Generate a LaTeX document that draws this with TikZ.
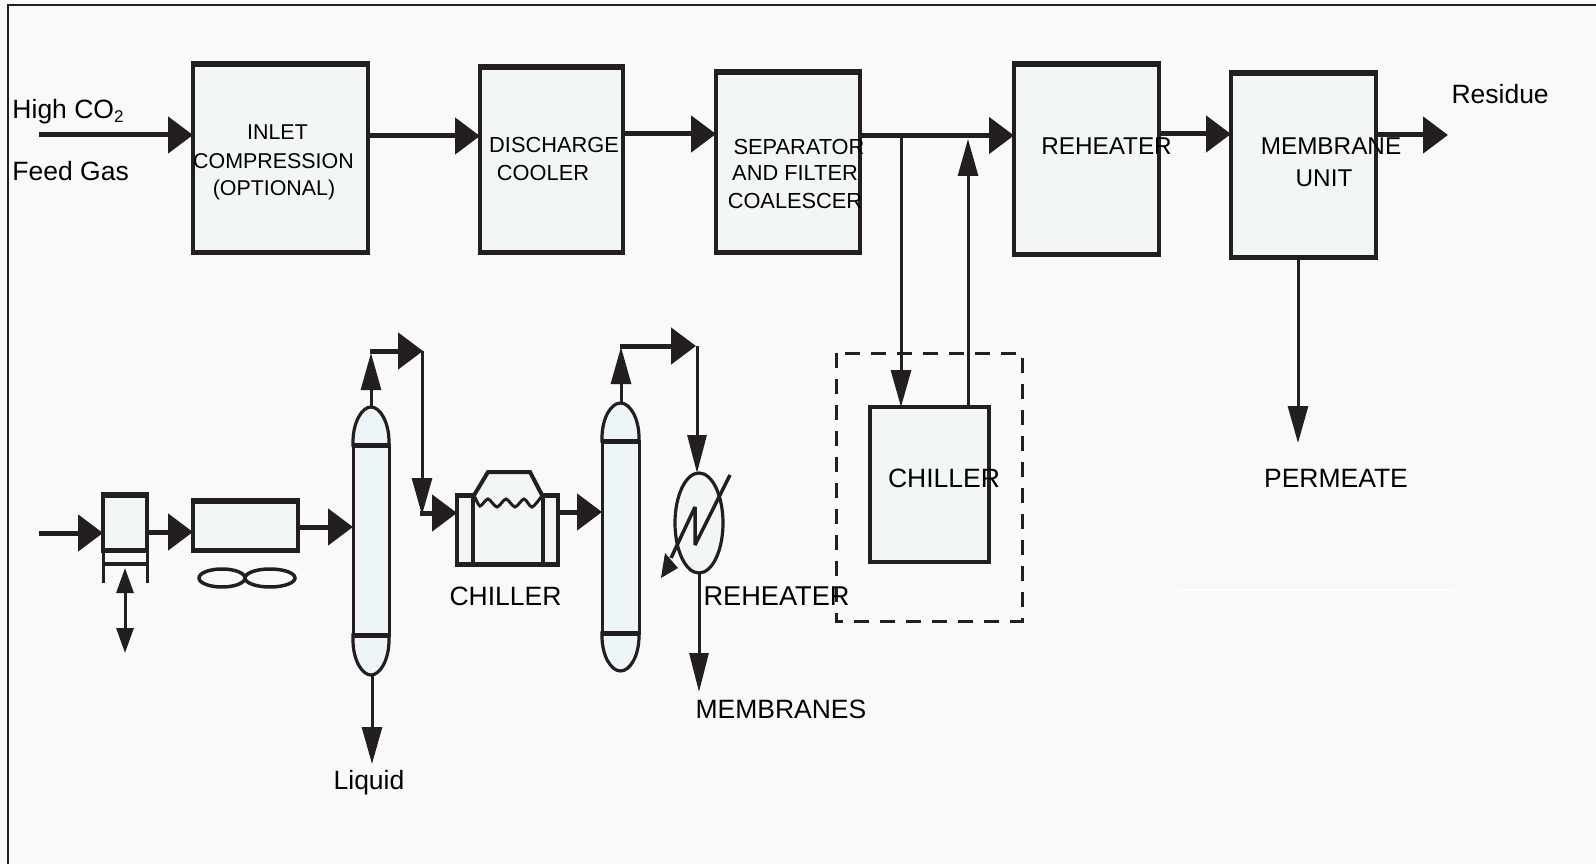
\documentclass[tikz,border=0pt]{standalone}
\usepackage{fontspec}
\setmainfont{Liberation Sans}
\usetikzlibrary{arrows.meta,calc,shapes.geometric}
\definecolor{ink}{HTML}{231F20}
\definecolor{pagebg}{HTML}{F9F9F9}
\definecolor{boxfill}{HTML}{F3F7F3}
\definecolor{colfill}{HTML}{EDF5F8}
\newcommand{\capbox}[1]{%
  \draw[ink,line width=5.5pt] ([xshift=-1.75pt]#1.north west) -- ([xshift=1.75pt]#1.north east);
  \draw[ink,line width=5pt] ([xshift=-1.75pt]#1.south west) -- ([xshift=1.75pt]#1.south east);}
\tikzset{
  unitbox/.style={draw=ink,fill=boxfill,line width=3.5pt,rectangle,inner sep=0pt,outer sep=0pt},
  colbox/.style={draw=ink,fill=colfill,line width=3pt,rectangle,inner sep=0pt,outer sep=0pt},
  bigflow/.style={draw=ink,line width=5pt,-{Triangle[length=25pt,width=36pt]}},
  thinflow/.style={draw=ink,line width=3pt,-{Triangle[length=37pt,width=20pt]}},
  lab/.style={text=black,inner sep=0pt,outer sep=0pt,anchor=base,align=center,font=\fontsize{26.5}{26.5}\selectfont},
  labl/.style={lab,anchor=base west},
  labm/.style={lab,font=\fontsize{21.8}{21.8}\selectfont},
  labs/.style={lab,font=\fontsize{21.4}{21.4}\selectfont},
  labr/.style={lab,font=\fontsize{24.3}{24.3}\selectfont},
}
\begin{document}
\begin{tikzpicture}[x=1pt,y=-1pt,line join=miter]
\useasboundingbox (0,0) rectangle (1596,864);
\fill[pagebg] (0,0) rectangle (1596,864);
\draw[ink,line width=1.6pt] (8,864) -- (8,5) -- (1596,5);
\draw[white,line width=2pt] (1179,590) -- (1453,590);

% top row
\node[unitbox,minimum width=175pt,minimum height=188pt] (inlet) at (280.5,158) {};
\node[unitbox,minimum width=143pt,minimum height=185pt] (discharge) at (551.5,159.5) {};
\node[unitbox,minimum width=144pt,minimum height=180pt] (separator) at (788,162) {};
\node[unitbox,minimum width=145pt,minimum height=190pt] (reheat) at (1086.5,159) {};
\node[unitbox,minimum width=145pt,minimum height=184pt] (membrane) at (1303.5,165) {};
\capbox{inlet}\capbox{discharge}\capbox{separator}\capbox{reheat}\capbox{membrane}
\node[unitbox,minimum width=119pt,minimum height=155pt] (chillbox) at (929.5,484.5) {};
\draw[ink,line width=3pt,dash pattern=on 15pt off 11pt] (836,353) rectangle (1022,621);

\coordinate (feedstart) at (39,135);
\coordinate (rowa) at (0,136);
\coordinate (rowb) at (0,134);
\coordinate (rowc) at (0,135.5);
\coordinate (rowd) at (0,134);
\coordinate (out) at (1448,135);
\coordinate (tee) at (901,135.5);
\coordinate (ret) at (968,139);
\coordinate (perm) at (1298,443);

\draw[bigflow] (feedstart) -- (inlet.west |- feedstart);
\draw[bigflow] (inlet.east |- rowa) -- (discharge.west |- rowa);
\draw[bigflow] (discharge.east |- rowb) -- (separator.west |- rowb);
\draw[bigflow] (separator.east |- rowc) -- (reheat.west |- rowc);
\draw[bigflow] (reheat.east |- rowd) -- (membrane.west |- rowd);
\draw[bigflow] (membrane.east |- out) -- (out);
\draw[thinflow] (tee) -- (tee |- chillbox.north);
\draw[thinflow] (ret |- chillbox.north) -- (ret);
\draw[thinflow] (perm |- membrane.south) -- (perm);

% lower train: compressor
\node[unitbox,minimum width=44pt,minimum height=55pt] (comp) at (125,522.5) {};
\capbox{comp}
\draw[ink,line width=3pt] (103,550) -- (103,583);
\draw[ink,line width=3pt] (147,550) -- (147,583);
\draw[ink,line width=4pt] (103,564) -- (147,564);
\coordinate (compin) at (39,533);
\coordinate (compout) at (0,532);
\coordinate (rodtop) at (125,568);
\coordinate (rodbot) at (125,653);
\draw[draw=ink,line width=3pt,{Triangle[length=25pt,width=17pt]}-{Triangle[length=25pt,width=17pt]}] (rodtop) -- (rodbot);

% air cooler and fan
\node[unitbox,minimum width=105pt,minimum height=49pt] (cooler) at (245.5,525.5) {};
\capbox{cooler}
\node[draw=ink,line width=3.5pt,ellipse,minimum width=46pt,minimum height=18pt,inner sep=0pt] (fanl) at (222,578) {};
\node[draw=ink,line width=3.5pt,ellipse,minimum width=50pt,minimum height=18pt,inner sep=0pt] (fanr) at (270,578) {};

% separator columns
\filldraw[draw=ink,fill=colfill,line width=3.2pt] (353,445) -- (353,442) .. controls (353,422) and (362,407) .. (371,407) .. controls (380,407) and (389,422) .. (389,442) -- (389,445) -- cycle;
\filldraw[draw=ink,fill=colfill,line width=3.2pt] (353,635) -- (353,640) .. controls (353,660) and (362,675) .. (371,675) .. controls (380,675) and (389,660) .. (389,640) -- (389,635) -- cycle;
\node[colbox,minimum width=36pt,minimum height=190pt] (col) at (371,540) {};
\draw[ink,line width=5pt] (col.north west) -- (col.north east);
\draw[ink,line width=5pt] (col.south west) -- (col.south east);
\filldraw[draw=ink,fill=colfill,line width=3.2pt] (602,441) -- (602,438) .. controls (602,418) and (611,403) .. (620.5,403) .. controls (630,403) and (639,418) .. (639,438) -- (639,441) -- cycle;
\filldraw[draw=ink,fill=colfill,line width=3.2pt] (602,633) -- (602,636) .. controls (602,656) and (611,671) .. (620.5,671) .. controls (630,671) and (639,656) .. (639,636) -- (639,633) -- cycle;
\node[colbox,minimum width=37pt,minimum height=192pt] (coltwo) at (620.5,537) {};
\draw[ink,line width=5pt] (coltwo.north west) -- (coltwo.north east);
\draw[ink,line width=5pt] (coltwo.south west) -- (coltwo.south east);

% chiller
\node[unitbox,minimum width=101pt,minimum height=69pt] (chill) at (507.5,529.5) {};
\draw[ink,line width=5pt] (455.25,495) -- (473,495) (543,495) -- (559.75,495) (455.25,564) -- (559.75,564);
\fill[boxfill] (473,493) -- (488,472) -- (530,472) -- (543,493) -- (543,500) -- (473,500) -- cycle;
\draw[ink,line width=3.5pt] (473,497) -- (473,564);
\draw[ink,line width=3.5pt] (543,497) -- (543,564);
\draw[ink,line width=4pt] (473,497) -- (488,472) -- (530,472) -- (543,497);
\draw[ink,line width=3pt] plot[smooth,tension=.5] coordinates {(475,497) (480,506) (488,499) (497,507) (506,499) (515,507) (524,499) (532,507) (541,497)};

% reheater
\node[draw=ink,fill=boxfill,line width=3.2pt,ellipse,minimum width=48pt,minimum height=100pt,inner sep=0pt,outer sep=0pt] (reheatsym) at (699,523) {};
\coordinate (zza) at (730,475);
\coordinate (zzb) at (695,545);
\coordinate (zzc) at (695,507);
\coordinate (zzd) at (671,558);
\draw[draw=ink,line width=3.5pt,miter limit=3] (zza) -- (zzb) -- (zzc) -- (zzd);
\fill[ink] (661,578) -- (678,568) -- (665,553) -- cycle;

% lower connectors
\draw[bigflow] (compin) -- (comp.west |- compin);
\draw[bigflow] (comp.east |- compout) -- (cooler.west |- compout);
\coordinate (coolout) at (0,527);
\draw[bigflow] (cooler.east |- coolout) -- (col.west |- coolout);
\coordinate (topa) at (371,407);
\coordinate (bendup) at (371,353);
\coordinate (bendst) at (369.5,351);
\coordinate (bendr) at (423,351);
\coordinate (benddown) at (422,515);
\draw[thinflow] (topa) -- (bendup);
\draw[bigflow] (bendst) -- (bendr);
\draw[thinflow] (422,351) -- (benddown);
\coordinate (benddst) at (420,513);
\draw[bigflow] (benddst) -- (chill.west |- benddst);
\coordinate (bota) at (372,675);
\coordinate (liq) at (372,764);
\draw[thinflow] (bota) -- (liq);
\coordinate (chillout) at (0,512);
\draw[bigflow] (chill.east |- chillout) -- (coltwo.west |- chillout);
\coordinate (topb) at (621,403);
\coordinate (bendtwo) at (621,347);
\coordinate (bendtwost) at (620,346);
\coordinate (bendtwor) at (696,346);
\coordinate (downtwo) at (697,346);
\draw[thinflow] (topb) -- (bendtwo);
\draw[bigflow] (bendtwost) -- (bendtwor);
\draw[draw=ink,line width=3pt,-{Triangle[length=38pt,width=19pt]}] (downtwo) -- (reheatsym.north -| downtwo);
\coordinate (memb) at (699,692);
\draw[draw=ink,line width=3pt,-{Triangle[length=39pt,width=19pt]}] (reheatsym.south) -- (memb);

% labels
\node[labl] (l1) at (12.5,119) {High CO\raisebox{-4pt}{\fontsize{17}{17}\selectfont 2}};
\node[labl] (l2) at (12.5,180) {Feed Gas};
\node[labs] (t1) at (277.5,139.5) {INLET};
\node[labs] (t2) at (273.5,168) {COMPRESSION};
\node[labs] (t3) at (274,195) {(OPTIONAL)};
\node[labm] (t4) at (554,153) {DISCHARGE};
\node[labm] (t5) at (543,180) {COOLER};
\node[labm] (t6) at (799,154) {SEPARATOR};
\node[labm] (t7) at (795,180) {AND FILTER};
\node[labm] (t8) at (795,208) {COALESCER};
\node[labr] (t9) at (1106.5,155) {REHEATER};
\node[labr] (t10) at (1331,154.5) {MEMBRANE};
\node[labr] (t11) at (1324,186) {UNIT};
\node[labl] (t12) at (1451.5,104) {Residue};
\node[lab] (t13) at (944,487) {CHILLER};
\node[lab] (t14) at (1336,487) {PERMEATE};
\node[lab] (t15) at (505.5,605) {CHILLER};
\node[labl,font=\fontsize{27.2}{27.2}\selectfont] (t16) at (703.5,605) {REHEATER};
\node[labl] (t17) at (695.5,718) {MEMBRANES};
\node[lab] (t18) at (369,789) {Liquid};
\end{tikzpicture}
\end{document}
